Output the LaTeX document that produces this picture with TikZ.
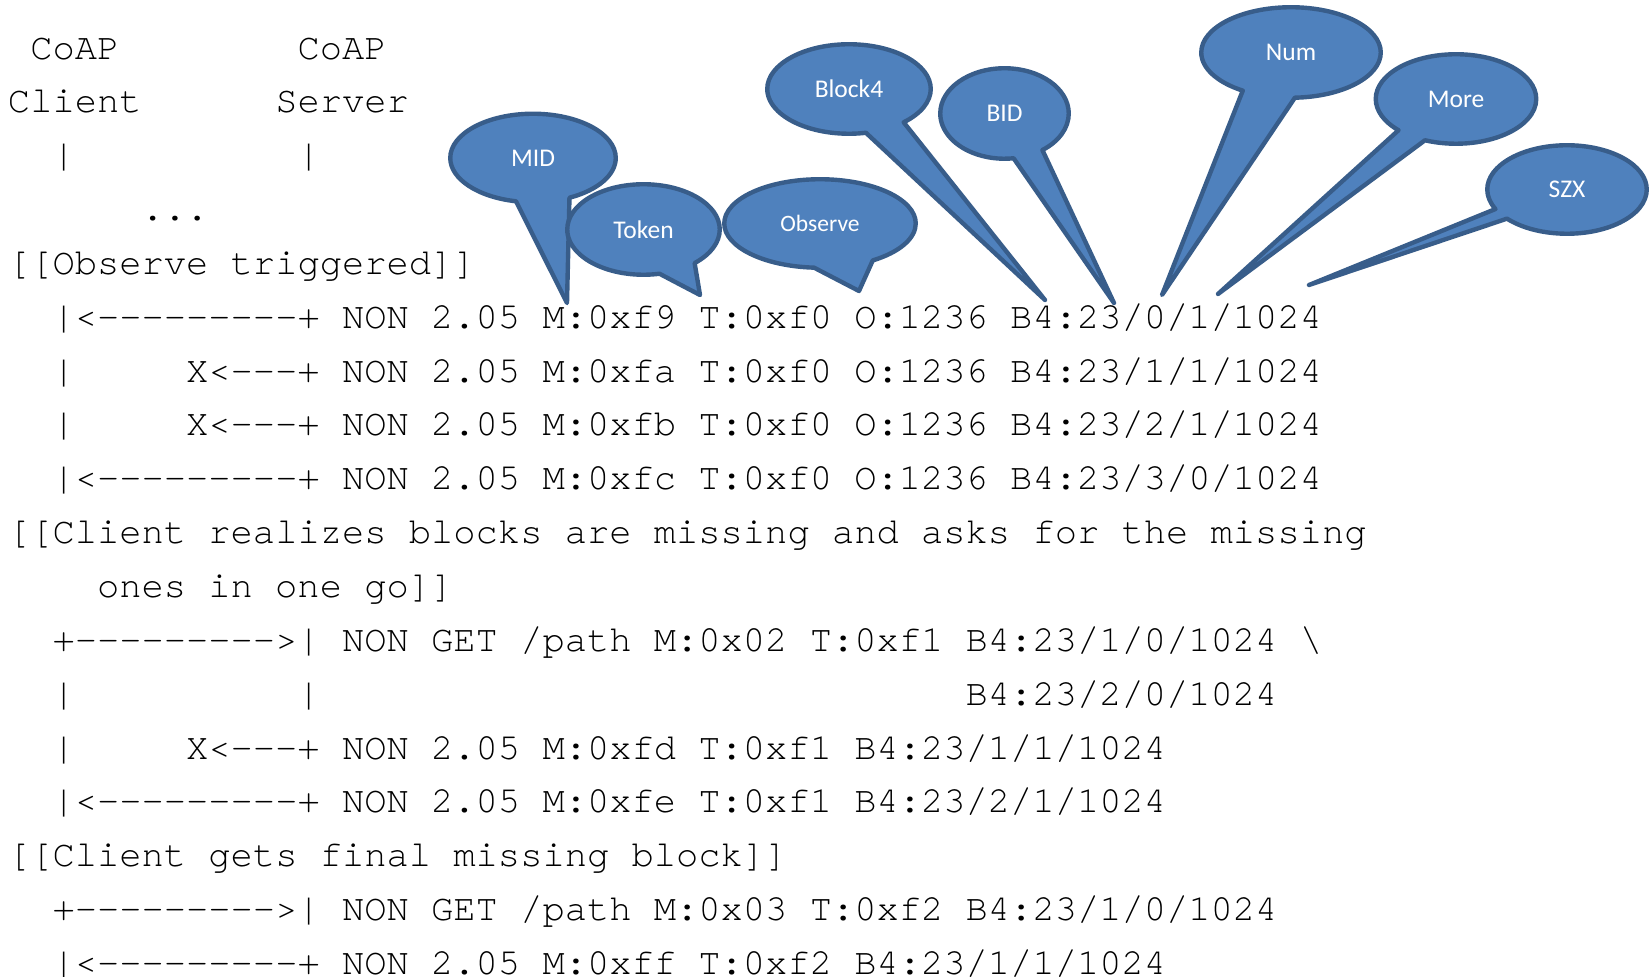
\documentclass[tikz,border=0pt]{standalone}
\usepackage{fontspec}
\setmonofont{TeX Gyre Cursor}[Ligatures={NoCommon}]
\newfontfamily\calloutfont{Carlito}
\usetikzlibrary{shapes.callouts}
\definecolor{bubblefill}{HTML}{4F81BD}
\definecolor{bubbleline}{HTML}{385D8A}
\tikzset{
  codeline/.style={anchor=base west, inner sep=0pt, outer sep=0pt,
    font=\ttfamily\fontsize{18.56pt}{18.56pt}\selectfont},
  bubble/.style={ellipse callout, fill=bubblefill, draw=bubbleline,
    line width=2.2pt, line join=round, inner sep=0pt, text=white,
    font=\calloutfont\fontsize{12.75pt}{12.75pt}\selectfont},
  smallbubble/.style={bubble, font=\calloutfont\fontsize{11.75pt}{11.75pt}\selectfont},
}
\begin{document}
\begin{tikzpicture}[x=0.5pt,y=-0.5pt]
\useasboundingbox (0,0) rectangle (1650,977);
% text lines
\node[codeline] (l0)  at (8,59.05)  {~CoAP~~~~~~~~CoAP};
\node[codeline] (l1)  at (8,112.90) {Client~~~~~~Server};
\node[codeline] (l2)  at (8,166.75) {~~|~~~~~~~~~~|};
\node[codeline] (l3)  at (8,220.60) {~~~~~~...};
\node[codeline] (l4)  at (8,274.45) {[[Observe triggered]]};
\node[codeline] (l5)  at (8,328.30) {~~|<---------+ NON 2.05 M:0xf9 T:0xf0 O:1236 B4:23/0/1/1024};
\node[codeline] (l6)  at (8,382.15) {~~|~~~~~X<---+ NON 2.05 M:0xfa T:0xf0 O:1236 B4:23/1/1/1024};
\node[codeline] (l7)  at (8,436.00) {~~|~~~~~X<---+ NON 2.05 M:0xfb T:0xf0 O:1236 B4:23/2/1/1024};
\node[codeline] (l8)  at (8,489.85) {~~|<---------+ NON 2.05 M:0xfc T:0xf0 O:1236 B4:23/3/0/1024};
\node[codeline] (l9)  at (8,543.70) {[[Client realizes blocks are missing and asks for the missing};
\node[codeline] (l10) at (8,597.55) {~~~~ones in one go]]};
\node[codeline] (l11) at (8,651.40) {~~+--------->| NON GET /path M:0x02 T:0xf1 B4:23/1/0/1024 \textbackslash};
\node[codeline] (l12) at (8,705.25) {~~|~~~~~~~~~~|~~~~~~~~~~~~~~~~~~~~~~~~~~~~~B4:23/2/0/1024};
\node[codeline] (l13) at (8,759.10) {~~|~~~~~X<---+ NON 2.05 M:0xfd T:0xf1 B4:23/1/1/1024};
\node[codeline] (l14) at (8,812.95) {~~|<---------+ NON 2.05 M:0xfe T:0xf1 B4:23/2/1/1024};
\node[codeline] (l15) at (8,866.80) {[[Client gets final missing block]]};
\node[codeline] (l16) at (8,920.65) {~~+--------->| NON GET /path M:0x03 T:0xf2 B4:23/1/0/1024};
\node[codeline] (l17) at (8,974.50) {~~|<---------+ NON 2.05 M:0xff T:0xf2 B4:23/1/1/1024};
% callout tips
\coordinate (midtip) at (567,303);
\coordinate (tokentip) at (700,295);
\coordinate (observetip) at (859,291);
\coordinate (blocktip) at (1045,300);
\coordinate (bidtip) at (1114,303);
\coordinate (numtip) at (1162,295);
\coordinate (moretip) at (1218,294);
\coordinate (szxtip) at (1309,285);
% callouts
\node[bubble, minimum width=82.75pt, minimum height=44.25pt,
  callout absolute pointer={(midtip)}, callout pointer arc=38] (mid) at (533,158) {MID};
\node[bubble, minimum width=76.25pt, minimum height=45.25pt,
  callout absolute pointer={(tokentip)}, callout pointer arc=30] (token) at (643.5,229.5) {Token};
\node[smallbubble, minimum width=95.75pt, minimum height=44.25pt,
  callout absolute pointer={(observetip)}, callout pointer arc=37] (observe) at (820,223.5) {Observe};
\node[bubble, minimum width=81.75pt, minimum height=44.75pt,
  callout absolute pointer={(blocktip)}, callout pointer arc=30] (block) at (849,89) {Block4};
\node[bubble, minimum width=64.25pt, minimum height=45.25pt,
  callout absolute pointer={(bidtip)}, callout pointer arc=28] (bid) at (1004.5,113.5) {BID};
\node[bubble, minimum width=89.75pt, minimum height=45.25pt,
  callout absolute pointer={(numtip)}, callout pointer arc=35] (num) at (1291,52.5) {Num};
\node[bubble, minimum width=80.25pt, minimum height=44.75pt,
  callout absolute pointer={(moretip)}, callout pointer arc=23] (more) at (1456,99) {More};
\node[bubble, minimum width=79.75pt, minimum height=44.25pt,
  callout absolute pointer={(szxtip)}, callout pointer arc=15] (szx) at (1567,189.5) {SZX};
\end{tikzpicture}
\end{document}
